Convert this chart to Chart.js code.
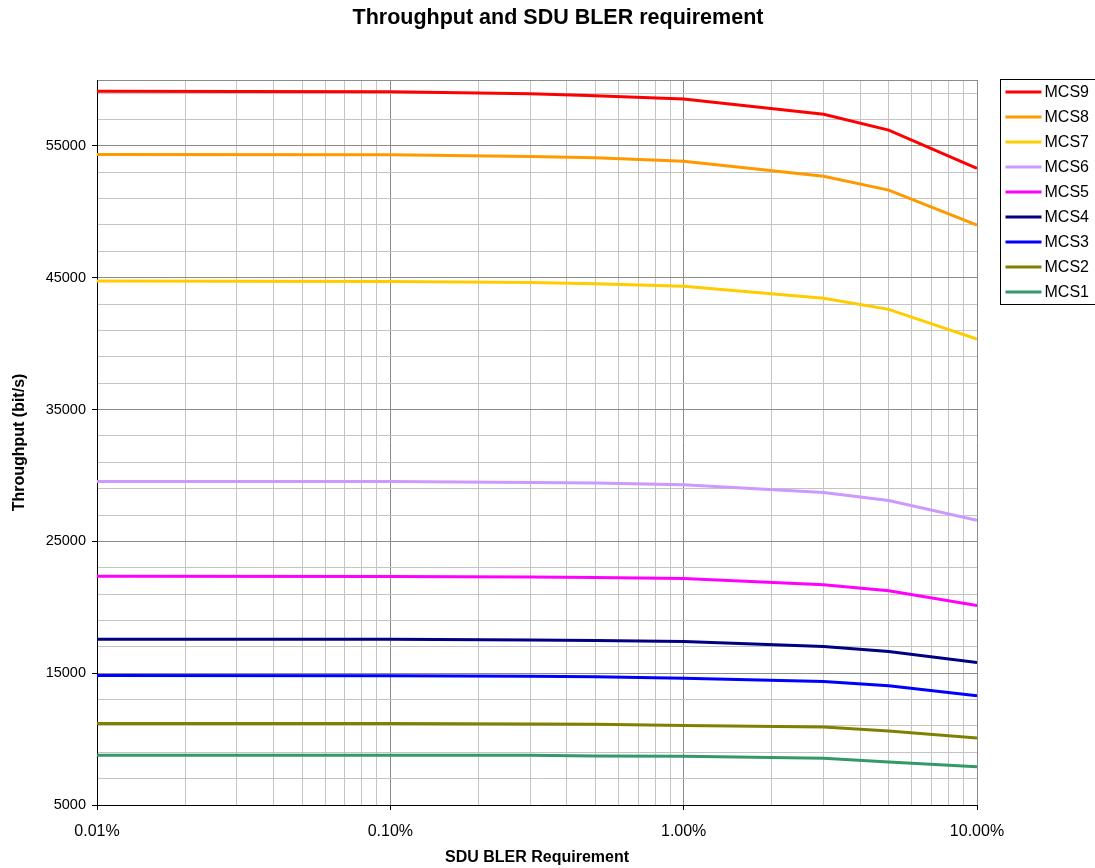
<!DOCTYPE html>
<html lang="en">
<head>
<meta charset="UTF-8">
<title>Throughput and SDU BLER requirement</title>
<script src="https://cdn.jsdelivr.net/npm/chart.js"></script>
<style>
  body { margin: 0; background: #fff; }
  #wrap { width: 1095px; height: 868px; }
</style>
</head>
<body>
<div id="wrap"><canvas id="blerChart" width="1095" height="868"></canvas></div>
<script>
// SDU BLER requirement (%) where the curves were measured
const blerPct = [0.01, 0.1, 0.3, 0.5, 1, 3, 5, 10];

// throughput (bit/s) per MCS
const mcs9 = [59150, 59100, 58950, 58800, 58550, 57400, 56200, 53300];
const mcs8 = [54350, 54330, 54200, 54100, 53830, 52700, 51650, 49000];
const mcs7 = [44750, 44720, 44630, 44550, 44350, 43450, 42600, 40350];
const mcs6 = [29550, 29540, 29470, 29430, 29300, 28700, 28100, 26600];
const mcs5 = [22350, 22340, 22300, 22260, 22180, 21700, 21250, 20130];
const mcs4 = [17580, 17570, 17520, 17480, 17400, 17020, 16640, 15800];
const mcs3 = [14820, 14810, 14760, 14720, 14620, 14360, 14040, 13280];
const mcs2 = [11190, 11190, 11150, 11120, 11040, 10920, 10620, 10090];
const mcs1 = [8780, 8780, 8770, 8720, 8700, 8550, 8270, 7910];

const seriesNames = ['MCS9', 'MCS8', 'MCS7', 'MCS6', 'MCS5', 'MCS4', 'MCS3', 'MCS2', 'MCS1'];
const seriesValues = [mcs9, mcs8, mcs7, mcs6, mcs5, mcs4, mcs3, mcs2, mcs1];
const seriesColors = ['#ff0000', '#ff9900', '#ffcc00', '#cc99ff', '#ff00ff', '#000080', '#0000ff', '#808000', '#339966'];

// tick labels
const yLabelTicks = [5000, 15000, 25000, 35000, 45000, 55000];
const xDecades = [0.01, 0.1, 1, 10];
const yMin = 5000, yMax = 60000, yMinorStep = 2000;

// gridlines: 1..9 in every decade, and every 2000 bit/s
const xGrid = [];
xDecades.slice(0, -1).forEach(d => {
    for (let k = 1; k <= 9; k++) xGrid.push(+(d * k).toPrecision(6));
});
xGrid.push(xDecades[xDecades.length - 1]);
const yGrid = [];
for (let v = yMin; v < yMax; v += yMinorStep) yGrid.push(v);
yGrid.push(yMax);

const isDecade = v => Math.abs(Math.log10(v) - Math.round(Math.log10(v))) < 1e-6;

const MAJOR = '#8c8c8c', MINOR = '#c4c4c4';
const FONT = '"Liberation Sans", Arial, sans-serif';

// title sits centred on the whole sheet, not on the plot
const sheetTitle = {
    id: 'sheetTitle',
    afterDraw(chart) {
        const ctx = chart.ctx;
        ctx.save();
        ctx.font = 'bold 21.5px ' + FONT;
        ctx.fillStyle = '#000';
        ctx.textAlign = 'center';
        ctx.textBaseline = 'middle';
        ctx.fillText('Throughput and SDU BLER requirement', 558, 18);
        ctx.restore();
    }
};

// legend box on the right, like the spreadsheet one
const boxLegend = {
    id: 'boxLegend',
    afterDraw(chart) {
        const ctx = chart.ctx;
        const x0 = 1000.5, y0 = 79.5, w = 100, rowH = 25;
        const sets = chart.data.datasets;
        ctx.save();
        ctx.fillStyle = '#fff';
        ctx.fillRect(x0, y0, w, sets.length * rowH);
        ctx.strokeStyle = '#000';
        ctx.lineWidth = 1;
        ctx.strokeRect(x0, y0, w, sets.length * rowH);
        ctx.font = '16px ' + FONT;
        ctx.textBaseline = 'middle';
        sets.forEach((ds, i) => {
            const y = y0 + 12.5 + i * rowH;
            ctx.strokeStyle = ds.borderColor;
            ctx.lineWidth = 3;
            ctx.beginPath();
            ctx.moveTo(x0 + 5, y);
            ctx.lineTo(x0 + 41, y);
            ctx.stroke();
            ctx.fillStyle = '#000';
            ctx.fillText(ds.label, x0 + 44, y + 1);
        });
        ctx.restore();
    }
};

Chart.defaults.font.family = FONT;
Chart.defaults.color = '#000';

new Chart(document.getElementById('blerChart'), {
    type: 'line',
    data: {
        datasets: seriesNames.map((name, i) => ({
            label: name,
            data: blerPct.map((p, j) => ({ x: p, y: seriesValues[i][j] })),
            borderColor: seriesColors[i],
            backgroundColor: seriesColors[i],
            borderWidth: 3,
            pointRadius: 0,
            tension: 0,
            fill: false
        }))
    },
    options: {
        responsive: false,
        animation: false,
        devicePixelRatio: 1,
        layout: { padding: { left: 0, right: 118, top: 80, bottom: 0 } },
        plugins: {
            legend: { display: false },
            tooltip: { enabled: false },
            title: { display: false }
        },
        scales: {
            x: {
                type: 'logarithmic',
                min: 0.01,
                max: 10,
                afterBuildTicks: s => { s.ticks = xGrid.map(v => ({ value: v, major: isDecade(v) })); },
                afterFit: s => { s.height = 63; },
                ticks: {
                    autoSkip: false,
                    maxRotation: 0,
                    padding: 12,
                    font: { size: 16 },
                    callback: v => isDecade(v) ? v.toFixed(2) + '%' : ''
                },
                grid: {
                    lineWidth: 1,
                    tickLength: 5,
                    color: c => isDecade(c.tick.value) ? MAJOR : MINOR,
                    tickColor: c => isDecade(c.tick.value) ? '#000' : 'rgba(0,0,0,0)'
                },
                border: { color: '#000', width: 1 },
                title: {
                    display: true,
                    text: 'SDU BLER Requirement',
                    font: { size: 16, weight: 'bold' },
                    padding: { top: 1, bottom: 1 }
                }
            },
            y: {
                type: 'linear',
                min: yMin,
                max: yMax,
                afterBuildTicks: s => { s.ticks = yGrid.map(v => ({ value: v })); },
                afterFit: s => { s.width = 97; },
                ticks: {
                    autoSkip: false,
                    padding: 6,
                    font: { size: 14.5 },
                    callback: v => yLabelTicks.includes(v) ? String(v) : ''
                },
                grid: {
                    lineWidth: 1,
                    tickLength: 5,
                    color: c => (yLabelTicks.includes(c.tick.value) || c.tick.value === yMax) ? MAJOR : MINOR,
                    tickColor: c => yLabelTicks.includes(c.tick.value) ? '#000' : 'rgba(0,0,0,0)'
                },
                border: { color: '#000', width: 1 },
                title: {
                    display: true,
                    text: 'Throughput (bit/s)',
                    font: { size: 16, weight: 'bold' },
                    padding: { top: 10, bottom: 10 }
                }
            }
        }
    },
    plugins: [sheetTitle, boxLegend]
});
</script>
</body>
</html>
